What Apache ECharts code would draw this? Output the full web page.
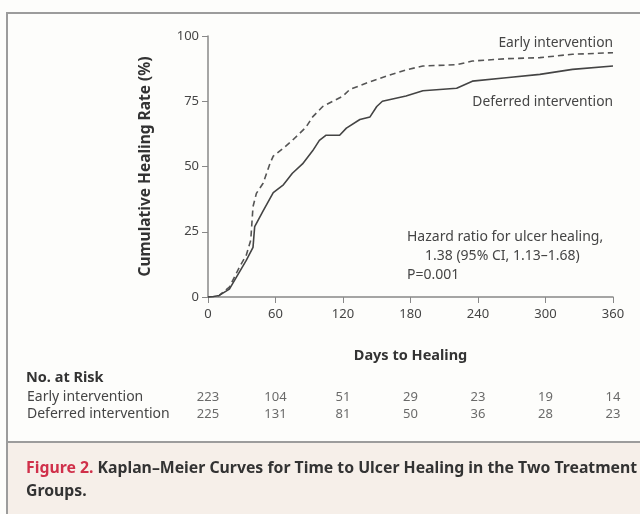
<!DOCTYPE html>
<html>
<head>
<meta charset="utf-8">
<script src="https://cdn.jsdelivr.net/npm/echarts@6/dist/echarts.min.js"></script>
<style>
  html, body { margin: 0; padding: 0; background: #fdfdfb; }
  #chart { width: 640px; height: 514px; }
</style>
</head>
<body>
<div id="chart"></div>
<script>
// curves: [day, cumulative healing %]
var earlyCurve = [
    [0, 0], [5, 0.2], [10, 0.6], [19, 3.8], [28, 11.5], [34, 16], [38, 21.8], [40, 34.6],
    [43, 39.7], [49, 43.6], [55, 51], [58, 54], [67, 57], [75, 60], [87, 65], [93, 69],
    [102, 73], [111, 75], [120, 77], [126, 79.5], [141, 82], [161, 85], [176, 87],
    [191, 88.5], [221, 89], [235, 90.4], [265, 91.3], [295, 91.7], [324, 93], [360, 93.6]
];
var deferredCurve = [
    [0, 0], [5, 0.2], [10, 0.6], [19, 3], [28, 9.6], [34, 14], [40, 19], [41.5, 27],
    [49, 33], [58, 40], [67, 43], [75, 47.4], [84, 51], [93, 56], [99, 60], [105, 62],
    [117, 62], [123, 64.7], [135, 68], [144, 69], [150, 73], [155, 75], [176, 77],
    [191, 79], [221, 80], [235, 82.7], [265, 84], [295, 85.3], [324, 87.2], [360, 88.5]
];

var riskDays = [0, 60, 120, 180, 240, 300, 360];
var riskGroups = ['Early intervention', 'Deferred intervention'];
var earlyAtRisk = [223, 104, 51, 29, 23, 19, 14];
var deferredAtRisk = [225, 131, 81, 50, 36, 28, 23];

var riskData = [];
for (var i = 0; i < riskDays.length; i++) {
    riskData.push([riskDays[i], riskGroups[0], earlyAtRisk[i]]);
    riskData.push([riskDays[i], riskGroups[1], deferredAtRisk[i]]);
}

var font = 'Noto Sans';
var textColor = '#454545';
var frameColor = '#9c9c9c';

var chart = echarts.init(document.getElementById('chart'));

var option = {
    backgroundColor: '#fdfdfb',
    animation: false,
    grid: [
        { left: 208, right: 27, top: 36, bottom: 217 },
        { left: 208, right: 27, top: 389, height: 34 }
    ],
    xAxis: [
        {
            type: 'value',
            min: 0,
            max: 360,
            interval: 60,
            name: 'Days to Healing',
            nameLocation: 'middle',
            nameGap: 51,
            nameTextStyle: { fontFamily: font, fontSize: 14.5, fontWeight: 'bold', color: '#333' },
            axisLine: { lineStyle: { color: '#888', width: 1.5 } },
            axisTick: { length: 6, lineStyle: { color: '#888' } },
            axisLabel: { fontFamily: font, fontSize: 13, color: textColor, margin: 11 },
            splitLine: { show: false }
        },
        {
            type: 'value',
            gridIndex: 1,
            min: 0,
            max: 360,
            show: false
        }
    ],
    yAxis: [
        {
            type: 'value',
            min: 0,
            max: 100,
            interval: 25,
            name: 'Cumulative Healing Rate (%)',
            nameLocation: 'middle',
            nameGap: 54,
            nameTextStyle: { fontFamily: font, fontSize: 15.5, fontWeight: 'bold', color: '#333' },
            axisLine: { show: true, lineStyle: { color: '#888', width: 1.5 } },
            axisTick: { show: true, length: 6, lineStyle: { color: '#888' } },
            axisLabel: { fontFamily: font, fontSize: 13, color: textColor, margin: 9 },
            splitLine: { show: false }
        },
        {
            type: 'category',
            gridIndex: 1,
            inverse: true,
            data: riskGroups,
            axisLine: { show: false },
            axisTick: { show: false },
            axisLabel: {
                interval: 0,
                hideOverlap: false,
                fontFamily: font,
                fontSize: 14,
                color: textColor,
                align: 'left',
                margin: 181
            }
        }
    ],
    series: [
        {
            name: 'Early intervention',
            type: 'line',
            data: earlyCurve,
            showSymbol: false,
            lineStyle: { color: '#555', width: 1.6, type: [6, 4] }
        },
        {
            name: 'Deferred intervention',
            type: 'line',
            data: deferredCurve,
            showSymbol: false,
            lineStyle: { color: '#444', width: 1.6 }
        },
        {
            name: 'No. at Risk',
            type: 'scatter',
            xAxisIndex: 1,
            yAxisIndex: 1,
            data: riskData,
            symbolSize: 0,
            label: {
                show: true,
                position: 'inside',
                fontFamily: font,
                fontSize: 13,
                color: textColor,
                formatter: function (p) { return p.value[2]; }
            }
        }
    ],
    graphic: [
        // caption panel
        { type: 'rect', shape: { x: 7, y: 442, width: 640, height: 80 }, style: { fill: '#f6efe9' }, z: -10 },
        { type: 'line', shape: { x1: 7, y1: 442, x2: 640, y2: 442 }, style: { stroke: frameColor, lineWidth: 2 } },
        { type: 'line', shape: { x1: 6, y1: 13, x2: 640, y2: 13 }, style: { stroke: frameColor, lineWidth: 2 } },
        { type: 'line', shape: { x1: 7, y1: 13, x2: 7, y2: 514 }, style: { stroke: frameColor, lineWidth: 2 } },
        {
            type: 'text', x: 613, y: 43,
            style: { text: 'Early intervention', align: 'right', verticalAlign: 'middle', font: '13.8px "Noto Sans"', fill: textColor }
        },
        {
            type: 'text', x: 613, y: 102,
            style: { text: 'Deferred intervention', align: 'right', verticalAlign: 'middle', font: '13.8px "Noto Sans"', fill: textColor }
        },
        {
            type: 'text', x: 407, y: 237,
            style: { text: 'Hazard ratio for ulcer healing,', verticalAlign: 'middle', font: '14px "Noto Sans"', fill: textColor }
        },
        {
            type: 'text', x: 425, y: 256,
            style: { text: '1.38 (95% CI, 1.13\u20131.68)', verticalAlign: 'middle', font: '14px "Noto Sans"', fill: textColor }
        },
        {
            type: 'text', x: 407, y: 275,
            style: { text: 'P=0.001', verticalAlign: 'middle', font: '14px "Noto Sans"', fill: textColor }
        },
        {
            type: 'text', x: 26, y: 378,
            style: { text: 'No. at Risk', verticalAlign: 'middle', font: 'bold 14.5px "Noto Sans"', fill: '#333' }
        },
        {
            type: 'text', x: 26, y: 457,
            style: {
                text: '{r|Figure 2.} Kaplan\u2013Meier Curves for Time to Ulcer Healing in the Two Treatment\nGroups.',
                font: 'bold 15.8px "Noto Sans"',
                fill: '#333',
                lineHeight: 23,
                rich: { r: { fill: '#d0304a', font: 'bold 15.8px "Noto Sans"' } }
            }
        }
    ]
};

chart.setOption(option);
</script>
</body>
</html>
